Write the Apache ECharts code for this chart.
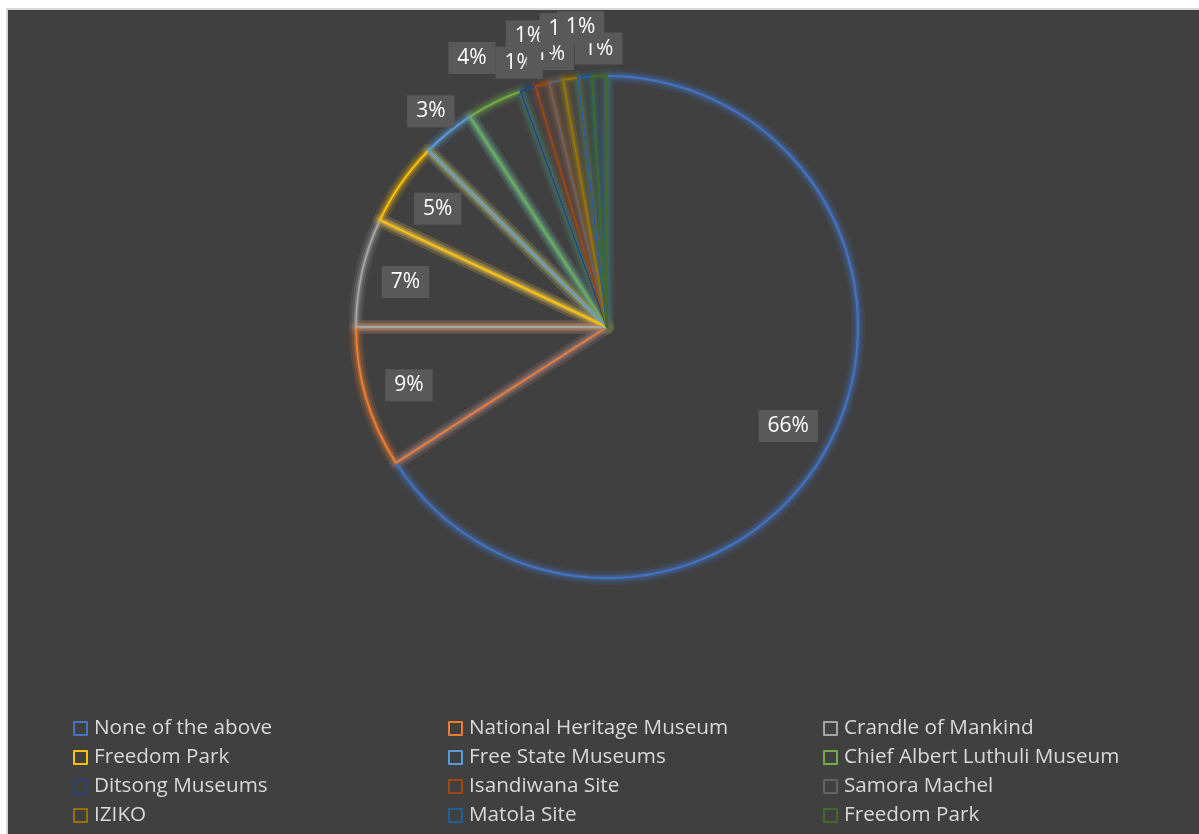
<!DOCTYPE html>
<html>
<head>
<meta charset="utf-8">
<script src="https://cdn.jsdelivr.net/npm/echarts@6/dist/echarts.min.js"></script>
<style>
html,body{margin:0;padding:0;background:#fff;width:1199px;height:834px;overflow:hidden;}
#frame{position:absolute;left:6px;top:8px;width:1200px;height:840px;border-left:2px solid #d9d9d9;border-top:2px solid #d9d9d9;background:#404040;}
#chart{position:absolute;left:8px;top:10px;width:1191px;height:824px;}
</style>
</head>
<body>
<div id="frame"></div>
<div id="chart"></div>
<script>
// ---- data ----
var categories = ['None of the above','National Heritage Museum','Crandle of Mankind','Freedom Park','Free State Museums','Chief Albert Luthuli Museum','Ditsong Museums','Isandiwana Site','Samora Machel','IZIKO','Matola Site','Freedom Park '];
var shares = [65.9, 9.1, 7.0, 5.4, 3.4, 3.6, 1.0, 0.9, 0.9, 0.95, 0.9, 0.95];
var colors = ['#4472C4','#ED7D31','#A5A5A5','#FFC000','#5B9BD5','#70AD47','#264478','#9E480E','#636363','#997300','#255E91','#43682B'];

// label ring per slice (layout only)
var labelRing = [0,0,0,0,1,2,1,2,1,2,2,1];
var rings = [[156,251],[251,300],[251,345]];
// glow layers: [borderWidth, alpha]
var glowLayers = [[14,0.12],[9,0.18],[5,0.3]];

function hexA(h,a){var r=parseInt(h.substr(1,2),16),g=parseInt(h.substr(3,2),16),b=parseInt(h.substr(5,2),16);return 'rgba('+r+','+g+','+b+','+a+')';}

var chart = echarts.init(document.getElementById('chart'));
var center = [599, 317];
var R = 251;

var series = [];
glowLayers.forEach(function(g){
  series.push({
    type:'pie', center:center, radius:R, startAngle:90, clockwise:true,
    silent:true, animation:false, label:{show:false}, labelLine:{show:false},
    data:categories.map(function(n,i){
      return {name:n, value:shares[i], itemStyle:{color:'rgba(0,0,0,0)', borderColor:hexA(colors[i],g[1]), borderWidth:g[0]}};
    })
  });
});
series.push({
  type:'pie', center:center, radius:R, startAngle:90, clockwise:true,
  silent:true, animation:false, label:{show:false}, labelLine:{show:false},
  data:categories.map(function(n,i){
    return {name:n, value:shares[i], itemStyle:{color:'rgba(0,0,0,0)', borderColor:colors[i], borderWidth:2}};
  })
});

var labelStyle = {
  position:'inside', color:'#ffffff', fontSize:21, fontFamily:'"Open Sans", "Noto Sans", sans-serif',
  backgroundColor:'#595959', padding:[6,9,5,9],
  formatter:function(p){return Math.round(p.percent)+'%';}
};
rings.forEach(function(rg,k){
  series.push({
    type:'pie', center:center, radius:rg, startAngle:90, clockwise:true,
    silent:true, animation:false, avoidLabelOverlap:false, labelLine:{show:false},
    labelLayout:{hideOverlap:false},
    label:labelStyle,
    data:categories.map(function(n,i){
      return {name:n, value:shares[i], itemStyle:{color:'rgba(0,0,0,0)', borderWidth:0}, label:{show:labelRing[i]===k}};
    })
  });
});

chart.setOption({
  backgroundColor:'#404040',
  animation:false,
  legend:{
    left:65, top:708, width:1130, padding:0, orient:'horizontal', itemWidth:13, itemHeight:13, itemGap:8,
    icon:'rect', selectedMode:false,
    textStyle:{color:'#d9d9d9', fontSize:20.7, fontFamily:'"Open Sans", "Noto Sans", sans-serif', width:346, lineHeight:21, padding:[0,0,0,2]},
    data:categories.map(function(n,i){return {name:n, itemStyle:{color:'rgba(0,0,0,0)', borderColor:colors[i], borderWidth:2}};})
  },
  series:series
});
</script>
</body>
</html>
